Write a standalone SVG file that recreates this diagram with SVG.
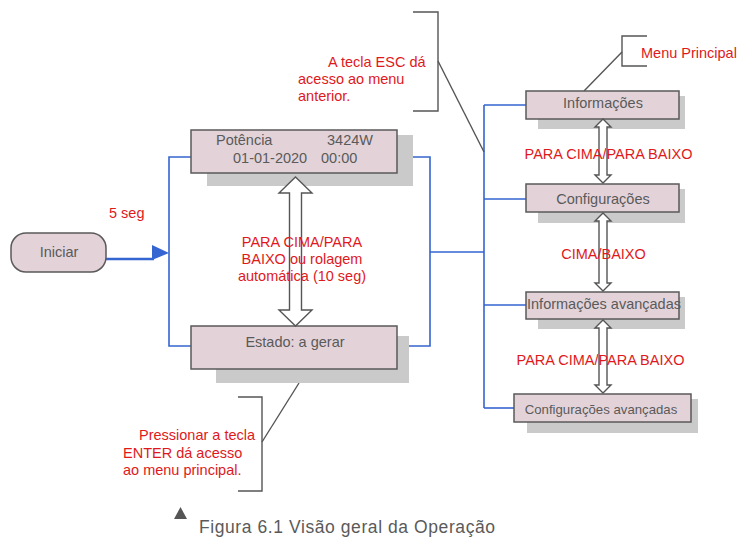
<svg xmlns="http://www.w3.org/2000/svg" width="740" height="539" viewBox="0 0 740 539">
<style>
.box{fill:#e3d3d9;stroke:#5a5a5a;stroke-width:1.5}
.sh{fill:#c9cac9}
.bt{font-family:"Liberation Sans",Arial,sans-serif;font-size:14.5px;fill:#5a5a5a}
.rt{font-family:"Liberation Sans",Arial,sans-serif;font-size:14.5px;fill:#e0191c}
.blue{fill:none;stroke:#3565d0;stroke-width:1.6}
.dark{fill:none;stroke:#555;stroke-width:1.4}
.dbl{fill:#fff;stroke:#555;stroke-width:1.4}
</style>
<rect width="740" height="539" fill="#fff"/>
<g id="connectors">
<polyline class="blue" points="191,157 169,157 169,346 191,346"/>
<polyline class="blue" points="397,157 430,157 430,346 397,346"/>
<line class="blue" x1="430" y1="252" x2="484" y2="252"/>
<line class="blue" x1="484" y1="105" x2="484" y2="408"/>
<line class="blue" x1="484" y1="105" x2="526" y2="105"/>
<line class="blue" x1="484" y1="199" x2="526" y2="199"/>
<line class="blue" x1="484" y1="305" x2="526" y2="305"/>
<line class="blue" x1="484" y1="408" x2="514" y2="408"/>
<line x1="106" y1="259" x2="154" y2="259" stroke="#3565d0" stroke-width="2.5"/>
<polygon points="152,245 169,253 152,260" fill="#3565d0"/>
<polyline class="dark" points="413,12 438,12 438,111 413,111"/>
<line class="dark" x1="438" y1="61" x2="484" y2="152"/>
<polyline class="dark" points="647,36 622,36 622,66 647,66"/>
<line class="dark" x1="622" y1="52" x2="584" y2="91"/>
<polyline class="dark" points="238,397 262,397 262,491 238,491"/>
<line class="dark" x1="262" y1="442" x2="299" y2="383"/>
</g>
<g id="iniciar">
<rect class="box" x="11" y="233" width="95" height="39" rx="15"/>
<text class="bt" x="59" y="257" text-anchor="middle">Iniciar</text>
</g>
<g id="potencia">
<rect class="sh" x="207" y="135" width="206" height="51"/>
<rect class="box" x="191" y="130" width="206" height="43"/>
<text class="bt" x="216" y="145">Potência</text>
<text class="bt" x="327" y="145">3424W</text>
<text class="bt" y="163"><tspan x="233">01-01-2020</tspan><tspan x="321">00:00</tspan></text>
</g>
<g id="estado">
<rect class="sh" x="216" y="336" width="193" height="47"/>
<rect class="box" x="191" y="326" width="206" height="43"/>
<text class="bt" x="295" y="347" text-anchor="middle">Estado: a gerar</text>
</g>
<g id="informacoes">
<rect class="sh" x="538" y="96" width="147" height="33"/>
<rect class="box" x="526" y="91" width="153" height="28"/>
<text class="bt" x="603" y="108" text-anchor="middle">Informações</text>
</g>
<g id="configuracoes">
<rect class="sh" x="538" y="189" width="147" height="34"/>
<rect class="box" x="526" y="184" width="153" height="28"/>
<text class="bt" x="603" y="204" text-anchor="middle">Configurações</text>
</g>
<g id="info-avancadas">
<rect class="sh" x="538" y="297" width="147" height="32"/>
<rect class="box" x="526" y="292" width="153" height="27"/>
<text class="bt" x="604" y="309" text-anchor="middle">Informações avançadas</text>
</g>
<g id="config-avancadas">
<rect class="sh" x="527" y="399" width="171" height="34"/>
<rect class="box" x="514" y="394" width="177" height="28"/>
<text class="bt" x="601" y="414" text-anchor="middle" style="font-size:13.2px">Configurações avançadas</text>
</g>
<g id="arrows">
<polygon class="dbl" points="295.5,177 312,193 301.5,193 301.5,310 312,310 295.5,326 279,310 289.5,310 289.5,193 279,193"/>
<polygon class="dbl" points="603,119 611,127 607,127 607,175 611,175 603,183 595,175 599,175 599,127 595,127"/>
<polygon class="dbl" points="603,213 611,221 607,221 607,283 611,283 603,291 595,283 599,283 599,221 595,221"/>
<polygon class="dbl" points="603,320 611,328 607,328 607,385 611,385 603,393 595,385 599,385 599,328 595,328"/>
</g>
<g id="labels">
<text class="rt" x="109" y="218">5 seg</text>
<text class="rt" text-anchor="middle"><tspan x="302" y="247">PARA CIMA/PARA</tspan><tspan x="302" y="264">BAIXO ou rolagem</tspan><tspan x="302" y="281">automática (10 seg)</tspan></text>
<text class="rt"><tspan x="328" y="67">A tecla ESC dá</tspan><tspan x="298" y="84">acesso ao menu</tspan><tspan x="298" y="101">anterior.</tspan></text>
<text class="rt" x="641" y="58">Menu Principal</text>
<text class="rt" x="608.5" y="159" text-anchor="middle">PARA CIMA/PARA BAIXO</text>
<text class="rt" x="603.5" y="259" text-anchor="middle">CIMA/BAIXO</text>
<text class="rt" x="600.5" y="365" text-anchor="middle">PARA CIMA/PARA BAIXO</text>
<text class="rt"><tspan x="139" y="440">Pressionar a tecla</tspan><tspan x="123" y="457.5">ENTER dá acesso</tspan><tspan x="123" y="475">ao menu principal.</tspan></text>
</g>
<g id="caption">
<polygon points="180.5,507 174,519 187,519" fill="#555"/>
<text x="199" y="533" textLength="296" lengthAdjust="spacing" style="font-family:'Liberation Sans',Arial,sans-serif;font-size:17.5px;fill:#5a5a5a">Figura 6.1 Visão geral da Operação</text>
</g>
</svg>
